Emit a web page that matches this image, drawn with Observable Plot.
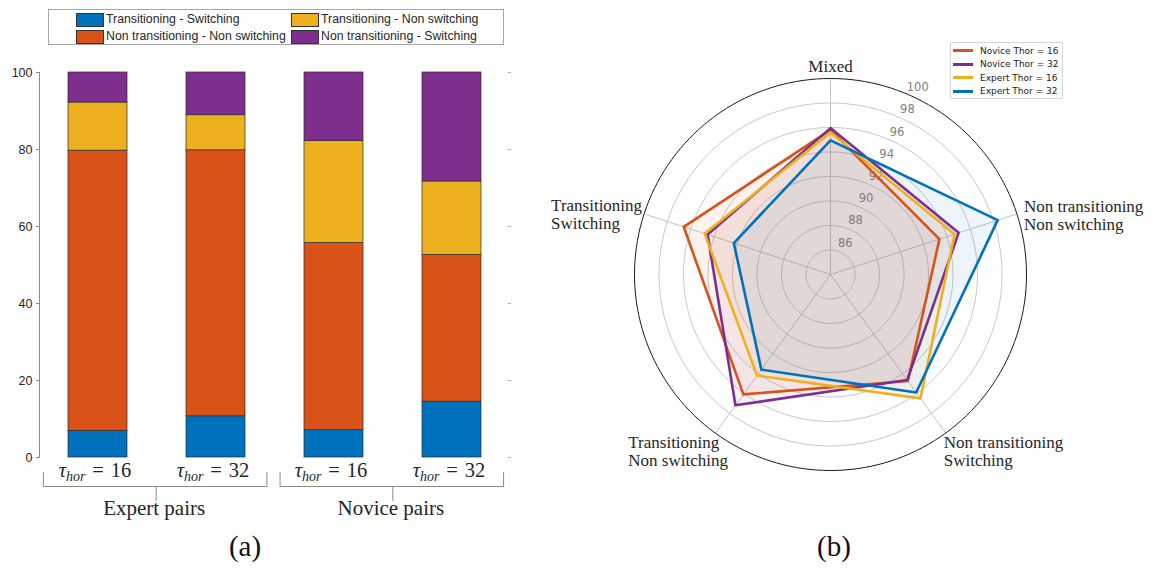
<!DOCTYPE html>
<html>
<head>
<meta charset="utf-8">
<script src="https://cdn.jsdelivr.net/npm/d3@7"></script>
<script src="https://cdn.jsdelivr.net/npm/@observablehq/plot@0.6"></script>
<style>
  html, body { margin: 0; padding: 0; background: #fff; }
  body { width: 1159px; height: 568px; position: relative; overflow: hidden; font-family: "Liberation Sans", Arial, sans-serif; }
  #chartA { position: absolute; left: 0; top: 0; }
  #chartB { position: absolute; left: 560px; top: 0; }
  .legA { position: absolute; left: 48px; top: 9px; width: 456px; height: 36px; border: 1px solid #a6a6a6; background: #fff; box-sizing: border-box; }
  .legA .item { position: absolute; height: 13px; font-size: 12.3px; color: #262626; white-space: nowrap; }
  .legA .sw { position: absolute; left: 0; top: 0; width: 26px; height: 12px; border: 1px solid #333; box-sizing: content-box; }
  .legA .lab { position: absolute; left: 30px; top: -1px; line-height: 15px; }
  .legB { position: absolute; left: 950px; top: 42px; width: 113px; height: 57px; border: 1px solid #d4d4d4; border-radius: 2px; background: #fff; box-sizing: border-box; }
  .legB .row { position: absolute; left: 2px; height: 12px; font-family: "DejaVu Sans", sans-serif; font-size: 9px; color: #222; white-space: nowrap; }
  .legB .ln { position: absolute; left: 0; top: 4.5px; width: 20px; height: 3px; }
  .legB .tx { position: absolute; left: 27px; top: 0; line-height: 12px; }
  .cap { position: absolute; width: 100px; text-align: center; font-family: "Liberation Serif", "Times New Roman", serif; font-size: 29px; line-height: 29px; color: #111; }
</style>
</head>
<body>
<div id="chartA"></div>
<div id="chartB"></div>
<div class="legA" id="legA"></div>
<div class="legB" id="legB"></div>
<div class="cap" style="left:195px; top:532px;">(a)</div>
<div class="cap" style="left:784px; top:532px;">(b)</div>
<script>
// ---------------- DATA (a) ----------------
const barKeys = ["E16", "E32", "N16", "N32"];
const barHorizon = [16, 32, 16, 32];
const pairGroups = ["Expert pairs", "Novice pairs"];
const pairMembers = [["E16", "E32"], ["N16", "N32"]];
const categories = [
  "Transitioning - Switching",
  "Non transitioning - Non switching",
  "Transitioning - Non switching",
  "Non transitioning - Switching"
];
const catColors = ["#0072BD", "#D95319", "#EDB120", "#7E2F8E"];
const transSwitch       = [6.9, 10.7, 7.1, 14.5];
const nonTransNonSwitch = [72.8, 69.1, 48.6, 38.1];
const transNonSwitch    = [12.5, 9.1, 26.5, 19.1];
const nonTransSwitch    = [7.8, 11.1, 17.8, 28.3];
const yTicks = [0, 20, 40, 60, 80, 100];

// ---------------- DATA (b) ----------------
const radarAxes = [
  "Mixed",
  "Non transitioning\nNon switching",
  "Non transitioning\nSwitching",
  "Transitioning\nNon switching",
  "Transitioning\nSwitching"
];
const radarSeries = ["Novice Thor = 16", "Novice Thor = 32", "Expert Thor = 16", "Expert Thor = 32"];
const radarColors = ["#D95319", "#7E2F8E", "#EDB120", "#0072BD"];
const novice16 = [95.8, 93.35, 94.75, 96.1, 96.6];
const novice32 = [95.95, 95.0, 94.65, 97.2, 94.55];
const expert16 = [95.6, 94.65, 96.5, 94.2, 94.8];
const expert32 = [94.95, 98.35, 95.9, 93.6, 92.3];
const rTicks = [86, 88, 90, 92, 94, 96, 98, 100];
const rCenter = 84;

// ---------------- CHART (a) ----------------
const catValues = [transSwitch, nonTransNonSwitch, transNonSwitch, nonTransSwitch];
const table = [];
categories.forEach((c, i) => barKeys.forEach((b, j) => table.push({bar: b, cat: c, value: catValues[i][j]})));

const serif = "'Liberation Serif', 'Times New Roman', serif";

const plotA = Plot.plot({
  width: 520, height: 568,
  marginTop: 72, marginBottom: 111, marginLeft: 39, marginRight: 10,
  style: {fontFamily: "'Liberation Sans', Arial, sans-serif", fontSize: "12.5px", color: "#262626", background: "transparent", overflow: "visible"},
  x: {domain: barKeys, paddingInner: 0.5, paddingOuter: 0.24, label: null},
  y: {domain: [0, 100], label: null},
  color: {domain: categories, range: catColors},
  marks: [
    Plot.barY(table, {x: "bar", y: "value", fill: "cat", stroke: "#2a2a2a", strokeWidth: 0.7}),
    Plot.frame({anchor: "left", stroke: "#8a8a8a"}),
    Plot.axisY(yTicks, {anchor: "left", tickSize: 3, tickPadding: 4, stroke: "#8a8a8a", label: null}),
    Plot.axisY(yTicks, {anchor: "right", tickSize: -3, tickFormat: () => "", stroke: "#aaa", label: null}),
    Plot.axisX({tickSize: 0, tickPadding: 5, label: null, tickFormat: (k) => "τhor = " + barHorizon[barKeys.indexOf(k)]})
  ]
});
document.getElementById("chartA").appendChild(plotA);

// math-style tick labels
d3.select(plotA).selectAll('g[aria-label="x-axis tick label"] text').each(function (d, i) {
  const t = d3.select(this);
  t.text(null).attr("font-family", serif).attr("font-size", 20.5).attr("fill", "#262626").attr("dx", -3);
  t.append("tspan").attr("font-style", "italic").text("τ");
  t.append("tspan").attr("font-style", "italic").attr("font-size", 14).attr("dy", 4).text("hor");
  t.append("tspan").attr("dy", -4).text("\u2004=\u2004" + barHorizon[i]);
});

// group brackets from the plot's own x scale
const sx = plotA.scale("x");
const xb = d3.scaleBand(sx.domain, sx.range).paddingInner(sx.paddingInner).paddingOuter(sx.paddingOuter).align(sx.align ?? 0.5);
const gB = d3.select(plotA).append("g").attr("fill", "none").attr("stroke", "#8a8a8a").attr("stroke-width", 1);
pairGroups.forEach((name, gi) => {
  const [first, last] = pairMembers[gi];
  const x0 = xb(first) - 24, x1 = xb(last) + xb.bandwidth() + 22, xm = (xb(first) + xb(last) + xb.bandwidth()) / 2;
  gB.append("path").attr("d", `M${x0},472V486.5H${x1}V472M${xm},486.5V501`);
  d3.select(plotA).append("text").attr("x", xm - 2).attr("y", 515).attr("text-anchor", "middle")
    .attr("font-family", serif).attr("font-size", 21).attr("fill", "#262626").text(name);
});

// legend (a), column-major like the original
const legA = document.getElementById("legA");
const legPos = [[27, 3], [27, 20], [242, 3], [242, 20]];
categories.forEach((c, i) => {
  const it = document.createElement("div");
  it.className = "item";
  it.style.left = legPos[i][0] + "px"; it.style.top = legPos[i][1] + "px";
  it.innerHTML = `<div class="sw" style="background:${catColors[i]}"></div><div class="lab">${c}</div>`;
  legA.appendChild(it);
});

// ---------------- CHART (b) ----------------
const nAx = radarAxes.length;
const ang = (i) => (90 - i * 360 / nAx) * Math.PI / 180;
const seriesValues = [novice16, novice32, expert16, expert32];
const pts = [];
radarSeries.forEach((s, si) => seriesValues[si].forEach((v, i) => {
  const r = v - rCenter;
  pts.push({series: s, axis: radarAxes[i], x: r * Math.cos(ang(i)), y: r * Math.sin(ang(i))});
}));
const rMax = d3.max(rTicks) - rCenter;
const ringPts = rTicks.flatMap(t => d3.range(0, 361, 2).map(a => ({t, x: (t - rCenter) * Math.cos(a * Math.PI / 180), y: (t - rCenter) * Math.sin(a * Math.PI / 180)})));
const cx = 270, cy = 274, R = 196;
const labAng = 25 * Math.PI / 180;
const labelStyles = [
  {textAnchor: "middle", lineAnchor: "bottom", dx: 0, dy: -7},
  {textAnchor: "start", lineAnchor: "middle", dx: 7, dy: 1},
  {textAnchor: "start", lineAnchor: "top", dx: -2, dy: 2},
  {textAnchor: "start", lineAnchor: "top", dx: -87, dy: 2},
  {textAnchor: "start", lineAnchor: "middle", dx: -93, dy: 0}
];

const plotB = Plot.plot({
  width: 599, height: 568, margin: 0,
  style: {background: "transparent", overflow: "visible"},
  x: {domain: [-rMax, rMax], range: [cx - R, cx + R], axis: null},
  y: {domain: [-rMax, rMax], range: [cy + R, cy - R], axis: null},
  color: {domain: radarSeries, range: radarColors},
  marks: [
    Plot.link(radarAxes, {x1: () => 0, y1: () => 0, x2: (d, i) => rMax * Math.cos(ang(i)), y2: (d, i) => rMax * Math.sin(ang(i)), stroke: "#c4c4c4", strokeWidth: 1}),
    Plot.line(ringPts.filter(d => d.t < 100), {x: "x", y: "y", z: "t", stroke: "#c8c8c8", strokeWidth: 1}),
    Plot.line(ringPts.filter(d => d.t === 100), {x: "x", y: "y", z: "t", stroke: "#1a1a1a", strokeWidth: 1}),
    Plot.text(rTicks, {x: t => (t - rCenter + 0.85) * Math.sin(labAng), y: t => (t - rCenter + 0.85) * Math.cos(labAng), text: t => String(t), fill: "#808080", fontSize: 11.5, fontFamily: "'DejaVu Sans', sans-serif"}),
    Plot.area(pts, {x1: "x", y1: "y", x2: () => 0, y2: () => 0, fill: "series", z: "series", fillOpacity: 0.07, curve: "linear-closed"}),
    Plot.line(pts, {x: "x", y: "y", z: "series", stroke: "series", strokeWidth: 2.6, curve: "linear-closed"}),
    ...radarAxes.map((a, i) => Plot.text([a], {
      x: () => rMax * Math.cos(ang(i)), y: () => rMax * Math.sin(ang(i)), text: d => d,
      fontFamily: serif, fontSize: 17, fill: "#262626", lineHeight: 1.06, ...labelStyles[i]
    }))
  ]
});
document.getElementById("chartB").appendChild(plotB);

// legend (b)
const legB = document.getElementById("legB");
radarSeries.forEach((s, i) => {
  const row = document.createElement("div");
  row.className = "row";
  row.style.top = (1.5 + i * 13.6) + "px";
  row.innerHTML = `<div class="ln" style="background:${radarColors[i]}"></div><div class="tx">${s}</div>`;
  legB.appendChild(row);
});
</script>
</body>
</html>
